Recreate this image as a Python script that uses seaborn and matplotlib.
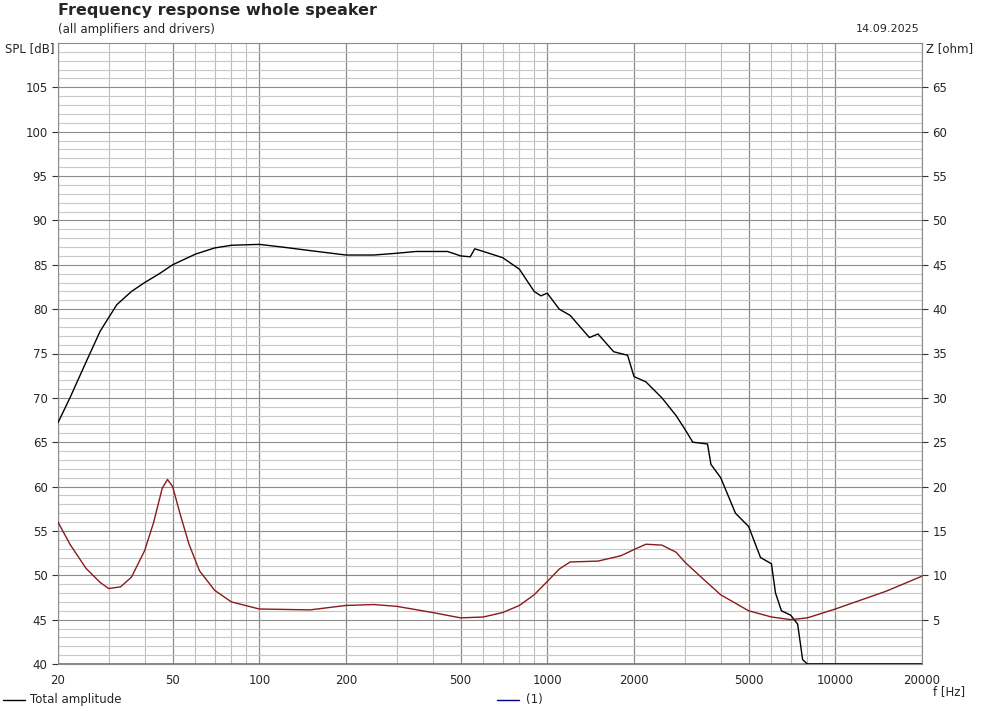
import matplotlib
matplotlib.use("Agg")
import matplotlib.pyplot as plt
import seaborn as sns
import numpy as np
import pandas as pd
from matplotlib.ticker import FixedLocator, NullFormatter, FixedFormatter

spl_freq = [20,22,25,28,32,36,40,45,50,60,70,80,100,120,150,200,250,300,350,450,480,500,540,560,600,700,800,900,950,1000,1100,1200,1400,1500,1700,1900,2000,2200,2500,2800,3000,3200,3600,3700,4000,4500,5000,5500,6000,6200,6500,7000,7400,7700,8000,20000]
spl_db = [67.2,70,74,77.5,80.5,82,83,84,85,86.2,86.9,87.2,87.3,87.0,86.6,86.1,86.1,86.3,86.5,86.5,86.2,86.0,85.9,86.8,86.5,85.8,84.5,82,81.5,81.8,80,79.3,76.8,77.2,75.2,74.8,72.4,71.8,70,68,66.5,65,64.8,62.5,61,57,55.5,52,51.3,48,46,45.5,44.5,40.5,40,40]
z_freq = [20,22,25,28,30,33,36,40,43,46,48,50,53,57,62,70,80,100,150,200,250,300,400,500,600,700,800,900,1000,1100,1200,1500,1800,2000,2200,2500,2800,3000,3500,4000,5000,6000,7000,8000,10000,15000,20000]
z_ohm = [16,13.5,10.8,9.2,8.5,8.7,9.8,12.8,16,19.8,20.8,20,17,13.5,10.5,8.3,7.0,6.2,6.1,6.6,6.7,6.5,5.8,5.2,5.3,5.8,6.6,7.8,9.3,10.7,11.5,11.6,12.2,12.9,13.5,13.4,12.6,11.5,9.5,7.8,6.0,5.3,5.0,5.2,6.2,8.2,9.9]

sns.set_style("white")
plt.rcParams['font.family'] = ['DejaVu Sans']
fig = plt.figure(figsize=(9.82, 7.11), dpi=100)
ax = fig.add_axes([58/982, 47/711, 864/982, 621/711])
ax.set_xscale('log')
ax.set_xlim(20, 20000)
ax.set_ylim(40, 110)

minor_x = [m*10**d for d in range(1, 5) for m in range(1, 10) if 20 <= m*10**d <= 20000]
major_x = [20,50,100,200,500,1000,2000,5000,10000,20000]
for f in minor_x:
    if f not in major_x:
        ax.axvline(f, color='#bdbdbd', lw=0.8, zorder=0)
for f in major_x:
    ax.axvline(f, color='#8c8c8c', lw=0.9, zorder=0)
for v in range(41, 110):
    ax.axhline(v, color='#8c8c8c' if v % 5 == 0 else '#c8c8c8', lw=0.8, zorder=0)

ax.axhline(40, color='#22aa22', lw=1.2, zorder=2)
df1 = pd.DataFrame({'f': spl_freq, 'spl': spl_db})
sns.lineplot(data=df1, x='f', y='spl', ax=ax, color='black', lw=1, zorder=3)
ax.set_xlabel(''); ax.set_ylabel('')

ax2 = ax.twinx()
ax2.set_ylim(0, 70)
df2 = pd.DataFrame({'f': z_freq, 'z': z_ohm})
sns.lineplot(data=df2, x='f', y='z', ax=ax2, color='#8b1a1a', lw=1, zorder=3)
ax2.set_ylabel(''); ax2.set_xlabel('')
ax2.set_yticks(range(5, 70, 5))
ax2.tick_params(axis='y', labelsize=8.5, length=4, color='#333333')
for s in ax2.spines.values():
    s.set_visible(False)

ax.set_xlim(20, 20000)
ax.xaxis.set_major_locator(FixedLocator(major_x))
ax.xaxis.set_major_formatter(FixedFormatter([str(f) for f in major_x]))
ax.xaxis.set_minor_locator(FixedLocator([]))
ax.xaxis.set_minor_formatter(NullFormatter())
ax.set_yticks(range(40, 110, 5))
ax.tick_params(axis='both', labelsize=8.5, length=4, color='#333333')
ax.xaxis.set_tick_params(labelbottom=True)
for s in ax.spines.values():
    s.set_color('#8c8c8c'); s.set_linewidth(0.8)

fig.text(58/982, 1-10/711, 'Frequency response whole speaker', fontsize=11.5, fontweight='bold', va='center')
fig.text(58/982, 1-29/711, '(all amplifiers and drivers)', fontsize=8.5, va='center')
fig.text(920/982, 1-29/711, '14.09.2025', fontsize=8, va='center', ha='right')
fig.text(5/982, 1-49/711, 'SPL [dB]', fontsize=8.5, va='center')
fig.text(926/982, 1-49/711, 'Z [ohm]', fontsize=8.5, va='center')
fig.text(965/982, 1-692/711, 'f [Hz]', fontsize=8.5, va='center', ha='right')

fig.add_artist(plt.Line2D([3/982, 25/982], [1-700/711]*2, color='black', lw=1))
fig.text(30/982, 1-700/711, 'Total amplitude', fontsize=8.5, va='center')
fig.add_artist(plt.Line2D([497/982, 519/982], [1-700/711]*2, color='#000080', lw=1))
fig.text(526/982, 1-700/711, '(1)', fontsize=8.5, va='center')

fig.savefig('out.png', dpi=100)
